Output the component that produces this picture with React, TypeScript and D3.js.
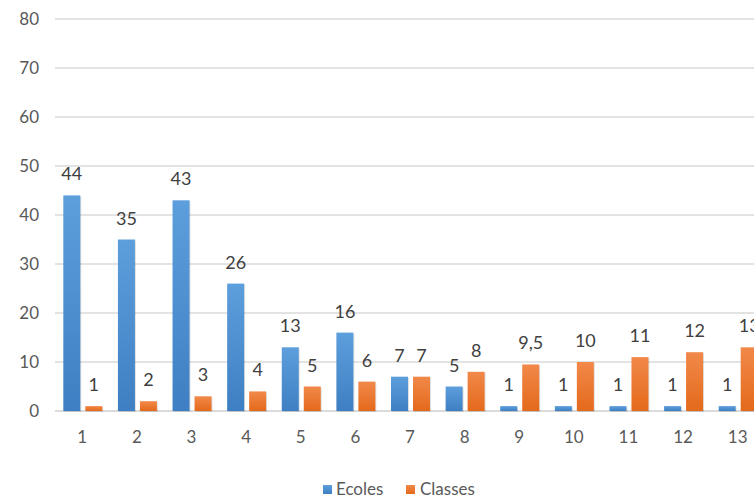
import React from "react";
import * as d3 from "d3";

const categories = ["1", "2", "3", "4", "5", "6", "7", "8", "9", "10", "11", "12", "13"];
const ecoles = [44, 35, 43, 26, 13, 16, 7, 5, 1, 1, 1, 1, 1];
const classes = [1, 2, 3, 4, 5, 6, 7, 8, 9.5, 10, 11, 12, 13];
const yTicks = [0, 10, 20, 30, 40, 50, 60, 70, 80];
const seriesNames = ["Ecoles", "Classes"];

const W = 754;
const H = 499;
const FONT = "Lato, 'Open Sans', sans-serif";

export default function App() {
  const x = d3.scaleBand<string>().domain(categories).range([55, 765]).paddingInner(0).paddingOuter(0);
  const y = d3.scaleLinear().domain([0, 80]).range([411, 19]);
  const bw = x.bandwidth();
  const barW = 17;
  const fmt = (v: number) => String(v).replace(".", ",");
  const series = [
    { name: seriesNames[0], values: ecoles, fill: "url(#gBlue)", off: -19 },
    { name: seriesNames[1], values: classes, fill: "url(#gOrange)", off: 3 },
  ];
  return (
    <svg width={W} height={H} style={{ position: "absolute", left: 0, top: 0, background: "#fff" }}>
      <defs>
        <linearGradient id="gBlue" x1="0" y1="0" x2="0" y2="1">
          <stop offset="0" stopColor="#5d9fdc" />
          <stop offset="1" stopColor="#3e7fc3" />
        </linearGradient>
        <linearGradient id="gOrange" x1="0" y1="0" x2="0" y2="1">
          <stop offset="0" stopColor="#f1894a" />
          <stop offset="1" stopColor="#e4691b" />
        </linearGradient>
      </defs>
      {yTicks.map((t) => (
        <g key={t}>
          <line x1={55} x2={W} y1={y(t)} y2={y(t)} stroke={t === 0 ? "#cfcfcf" : "#dadada"} strokeWidth={1.5} />
          <text x={39} y={y(t)} dy="0.35em" textAnchor="end" fontFamily={FONT} fontSize={17} fill="#595959">
            {t}
          </text>
        </g>
      ))}
      {series.map((s) =>
        s.values.map((v, i) => {
          const cx = (x(categories[i]) as number) + bw / 2;
          return (
            <g key={s.name + i}>
              <rect x={cx + s.off + 1} y={y(v) + 1} width={barW} height={y(0) - y(v)} fill="#000" opacity={0.12} />
              <rect x={cx + s.off} y={y(v)} width={barW} height={y(0) - y(v)} fill={s.fill} />
              <text x={cx + s.off + barW / 2} y={y(v) - 15} textAnchor="middle" fontFamily={FONT} fontSize={18} fill="#404040">
                {fmt(v)}
              </text>
            </g>
          );
        })
      )}
      {categories.map((c) => (
        <text key={c} x={(x(c) as number) + bw / 2} y={437} dy="0.35em" textAnchor="middle" fontFamily={FONT} fontSize={17} fill="#595959">
          {c}
        </text>
      ))}
      <g>
        <rect x={323} y={485} width={9} height={9} fill="url(#gBlue)" />
        <text x={336} y={489.5} dy="0.35em" fontFamily={FONT} fontSize={17} fill="#595959">{seriesNames[0]}</text>
        <rect x={406} y={485} width={9} height={9} fill="url(#gOrange)" />
        <text x={420} y={489.5} dy="0.35em" fontFamily={FONT} fontSize={17} fill="#595959">{seriesNames[1]}</text>
      </g>
    </svg>
  );
}
